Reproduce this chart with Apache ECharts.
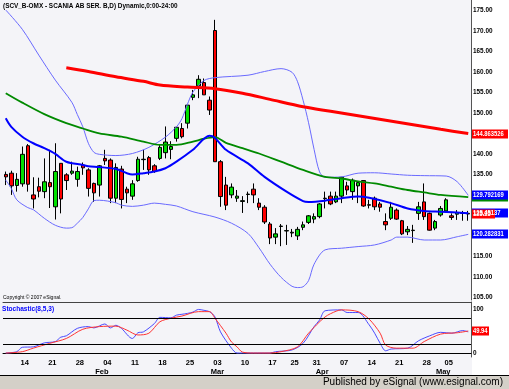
<!DOCTYPE html>
<html><head><meta charset="utf-8">
<script src="https://cdn.jsdelivr.net/npm/echarts@6/dist/echarts.min.js"></script>
<style>html,body{margin:0;padding:0;background:#fff}#c{width:509px;height:389px}</style>
</head><body><div id="c"></div>
<script>
// ---- categories (trading days 2008) ----
const dates = ['01-09','01-10','01-11','01-14','01-15','01-16','01-17','01-18','01-21','01-22','01-23','01-24','01-25','01-28','01-29','01-30','01-31',
'02-01','02-04','02-05','02-06','02-07','02-08','02-11','02-12','02-13','02-14','02-15','02-18','02-19','02-20','02-21','02-22','02-25','02-26','02-27','02-28','02-29',
'03-03','03-04','03-05','03-06','03-07','03-10','03-11','03-12','03-13','03-14','03-17','03-18','03-19','03-20','03-25','03-26','03-27','03-28','03-31',
'04-01','04-02','04-03','04-04','04-07','04-08','04-09','04-10','04-11','04-14','04-15','04-16','04-17','04-18','04-21','04-22','04-23','04-24','04-25','04-28','04-29','04-30',
'05-02','05-05','05-06','05-07','05-08','05-09'];
const weekLabels = ['01-14','01-21','01-28','02-04','02-11','02-18','02-25','03-03','03-10','03-17','03-25','03-31','04-07','04-14','04-21','04-28','05-05'];
const monthLabels = {'02-01':'Feb','03-03':'Mar','04-01':'Apr','05-02':'May'};
const priceTicks = [105,110,115,120,125,130,135,140,145,150,155,160,165,170,175];
const stochTicks = [0,100];

// ---- OHLC ----
const opens = [134.9,135.2,132.2,132.6,141.9,129.9,131.9,130.7,132.9,127.0,
137.6,134.8,135.2,133.7,137.2,136.0,132.7,132.3,138.8,138.4,
129.1,136.2,131.3,129.6,133.4,138.5,139.0,137.0,138.8,140.2,
141.0,143.7,146.1,147.4,153.7,156.5,157.3,153.0,170.0,138.0,
132.3,129.9,129.1,128.3,130.0,131.3,127.9,126.9,122.8,119.6,
122.2,121.1,120.6,119.9,122.0,123.2,124.0,124.6,129.0,129.6,
128.2,129.6,132.1,130.7,132.1,133.4,127.5,129.1,127.7,123.4,
124.2,126.2,123.6,120.9,121.2,125.4,128.2,125.4,121.8,125.0,
126.0,124.8,125.2,125.4,125.4];
const closes = [134.3,132.1,133.7,139.8,132.5,128.9,130.8,133.1,131.9,135.6,
128.9,133.4,135.7,135.6,136.5,131.5,130.4,137.0,138.2,129.1,
136.6,128.8,130.4,132.6,138.6,138.6,136.0,135.6,141.5,142.8,
141.7,146.4,144.1,151.8,154.3,158.1,154.3,150.6,138.0,129.5,
127.4,131.8,129.6,128.5,130.1,129.9,126.9,123.3,119.4,120.4,
122.3,121.2,120.8,121.5,122.6,124.8,124.6,127.7,129.1,127.7,
129.6,134.2,131.1,133.5,132.9,127.2,127.4,127.0,126.9,122.6,
126.9,124.0,120.4,121.5,121.3,127.0,124.6,121.3,123.4,126.6,
128.7,124.4,125.6,125.5,125.25];
const lows = [132.3,129.9,130.7,131.9,130.7,126.6,129.3,129.1,126.7,123.9,
125.4,131.1,134.8,131.9,134.8,129.5,128.2,129.5,137.2,127.9,
127.9,126.6,127.9,128.7,133.1,136.0,134.8,135.3,138.4,138.8,
138.6,142.9,143.7,146.1,153.0,153.5,154.3,149.4,138.0,127.0,
126.2,129.1,128.2,125.5,127.9,127.9,126.2,122.8,117.9,117.9,
117.4,117.7,119.6,118.9,121.3,122.8,123.0,124.2,126.6,127.4,
127.9,127.9,129.9,128.7,127.9,127.0,126.6,126.2,125.8,121.3,
123.8,123.8,120.1,120.1,118.2,123.8,123.8,121.2,121.3,124.6,
125.6,123.8,123.8,123.6,123.6];
const highs = [135.6,135.8,135.2,141.7,142.3,134.2,134.1,138.8,140.9,142.5,
137.6,135.2,138.0,136.8,137.8,136.4,132.9,137.2,140.9,138.8,
137.6,137.0,131.9,133.5,139.2,140.9,139.4,137.4,142.1,146.6,
143.0,146.5,147.4,151.8,155.5,159.1,158.3,153.9,172.6,138.4,
134.3,132.7,131.1,129.6,130.7,132.7,129.1,127.4,123.3,121.8,
122.8,122.6,121.6,122.1,123.4,125.0,125.4,127.9,130.7,130.7,
130.7,134.3,133.1,133.9,133.1,133.5,128.7,129.5,128.2,125.4,
128.2,126.6,123.8,122.3,122.6,128.2,132.7,125.6,123.8,127.2,
129.1,125.4,126.2,126.0,126.0];

// ---- overlays, read as [dayIndex, value] ----
const maRed = [[11,160.9],[15,160.0],[20,158.7],[25,157.6],[28,156.7],[33,156.2],[38,155.8],[43,154.7],[48,153.2],[54,151.4],[59,150.3],[64,149.2],[69,148.1],[74,147.0],[79,145.9],[84,144.86]];
const maGreen = [[0,154.7],[3,152.4],[7,149.6],[11,147.4],[14,146.1],[17,144.9],[21,144.1],[25,142.9],[28,142.1],[31,142.1],[34,142.9],[36,143.6],[38,144.0],[40,142.6],[43,141.3],[46,140.0],[50,138.0],[54,136.0],[58,134.3],[61,133.9],[64,133.2],[67,132.7],[70,131.9],[73,131.1],[76,130.5],[79,129.9],[84,129.35]];
const maBlue = [[0,148.6],[1,146.5],[3,144.1],[5,142.5],[7,141.3],[9,139.9],[11,138.0],[14,137.2],[15,136.9],[17,136.7],[20,136.2],[22,135.2],[23,134.9],[25,135.2],[27,135.6],[29,136.4],[31,138.0],[34,140.9],[37,144.3],[38,143.8],[40,140.9],[44,137.6],[47,134.3],[51,130.7],[54,128.4],[55,128.2],[58,128.5],[61,129.1],[64,129.5],[66,129.2],[70,127.9],[73,126.6],[76,126.0],[79,125.8],[84,125.45]];
const bandUpper = [[0,175.0],[3,170.3],[6,164.0],[9,157.9],[12,152.5],[13,149.5],[14,146.5],[15,142.5],[16,140.3],[17,139.8],[20,139.5],[23,140.0],[26,141.5],[29,144.0],[31,146.5],[32,148.5],[33,152.0],[34,155.0],[36,157.8],[38,158.5],[44,159.1],[47,160.0],[50,160.7],[52,159.8],[53,157.5],[54,153.0],[55,147.5],[56,141.0],[57,135.5],[58,134.2],[61,134.3],[64,135.2],[67,135.3],[70,135.0],[73,134.7],[76,134.6],[80,134.5],[82,133.1],[84,129.79]];
const bandLower = [[0,133.5],[1,131.5],[2,128.7],[4,126.8],[5,126.3],[7,124.2],[9,122.5],[11,121.8],[12,121.9],[13,123.0],[14,124.4],[15,126.5],[16,128.5],[17,128.6],[20,128.0],[21,127.4],[23,127.1],[25,127.4],[27,127.9],[29,127.6],[31,127.2],[34,125.8],[38,124.5],[41,123.0],[44,120.5],[46,117.0],[48,113.0],[50,109.8],[52,107.6],[53,107.3],[54,107.5],[55,109.0],[56,113.0],[58,116.5],[61,116.9],[64,117.3],[67,117.7],[70,118.9],[71,119.6],[73,119.6],[76,118.9],[79,118.9],[82,119.7],[84,120.28]];
const stochK = [[0,0],[2,3],[3,13],[5,14],[7,23],[9,26],[10,36],[11,39],[13,56],[15,60],[16,57],[18,66],[19,57],[20,63],[21,56],[23,33],[24,46],[25,48],[27,67],[28,81],[30,80],[31,86],[32,88],[33,90],[34,93],[35,99],[36,97],[37,94],[38,82],[39,48],[41,11],[42,0],[44,0],[48,0],[49,3],[52,7],[54,22],[56,60],[57,75],[58,96],[61,98],[62,92],[64,92],[66,64],[67,45],[68,22],[69,5],[70,9],[73,11],[75,28],[77,39],[79,47],[81,45],[83,51],[84,48]];
const stochD = [[0,0],[3,3],[5,11],[8,22],[11,33],[14,54],[17,60],[20,61],[22,52],[24,41],[26,45],[28,71],[30,79],[32,84],[35,94],[37,94],[38,79],[40,45],[41,25],[42,14],[43,2],[45,0],[48,0],[50,3],[53,14],[55,45],[58,82],[60,95],[61,98],[64,94],[66,77],[68,45],[69,18],[71,11],[74,11],[76,26],[79,43],[82,46],[84,49.94]];

// ---- layout ----
const F = '"Liberation Sans", Arial, sans-serif';
const GL = 3, GW = 468, AX = GL + GW;
const K1 = 4.1;                       // px per price unit
const MAIN_MAX = 175 + 10 / K1, MAIN_MIN = MAIN_MAX - 300 / K1;
const K2 = 0.44;
const ST_MAX = 100 + 7 / K2, ST_MIN = ST_MAX - 55 / K2;

const chart = echarts.init(document.getElementById('c'));
const lbl = {fontSize: 7.5, fontWeight: 'bold', color: '#000', fontFamily: F};
function line(data, color, width, xi, yi) {
  return {type: 'line', data, xAxisIndex: xi || 0, yAxisIndex: yi || 0, symbol: 'none', smooth: 0.3,
    lineStyle: {color, width}, silent: true};
}
chart.setOption({
  backgroundColor: '#f4f4f8',
  animation: false,
  grid: [
    {left: GL, width: GW, top: 0, height: 300},
    {left: GL, width: GW, top: 302, height: 55}
  ],
  xAxis: [
    {type: 'category', gridIndex: 0, data: dates, axisLine: {show: false}, axisTick: {show: false}, axisLabel: {show: false}},
    {type: 'category', gridIndex: 1, data: dates, axisLine: {show: true, lineStyle: {color: '#000'}}, axisTick: {show: false},
      axisLabel: Object.assign({interval: (i) => weekLabels.includes(dates[i]), formatter: (v) => v.slice(3), margin: 2, padding: [0, 0, 0, 5]}, lbl)},
    {type: 'category', gridIndex: 1, data: dates, position: 'bottom', offset: 9, axisLine: {show: false}, axisTick: {show: false},
      axisLabel: Object.assign({interval: (i) => dates[i] in monthLabels, formatter: (v) => monthLabels[v] || '', margin: 2, padding: [0, 0, 0, 5]}, lbl)},
    {type: 'category', gridIndex: 1, data: dates, position: 'top', axisLine: {show: true, lineStyle: {color: '#444'}}, axisTick: {show: false}, axisLabel: {show: false}}
  ],
  yAxis: [
    {type: 'value', gridIndex: 0, position: 'right', min: MAIN_MIN, max: MAIN_MAX, splitLine: {show: false},
      axisLine: {show: true, lineStyle: {color: '#555'}}, axisTick: {show: false}, axisLabel: {show: false}},
    {type: 'value', gridIndex: 1, position: 'right', min: ST_MIN, max: ST_MAX, splitLine: {show: false},
      axisLine: {show: true, lineStyle: {color: '#555'}}, axisTick: {show: false}, axisLabel: {show: false}}
  ],
  series: [
    {type: 'candlestick', xAxisIndex: 0, yAxisIndex: 0, barWidth: 4,
      data: dates.map((d, i) => [opens[i], closes[i], lows[i], highs[i]]),
      itemStyle: {color: '#00e000', color0: '#ff0000', borderColor: '#000', borderColor0: '#000', borderColorDoji: '#000', borderWidth: 1}},
    line(bandUpper, '#6a6aff', 1),
    line(bandLower, '#6a6aff', 1),
    line(maGreen, '#008a00', 1.8),
    line(maBlue, '#0000ff', 2),
    line(maRed, '#ff0000', 3),
    Object.assign(line(stochK, '#4a4aff', 1, 1, 1), {
      markLine: {silent: true, symbol: 'none', label: {show: false}, lineStyle: {color: '#000', type: 'solid', width: 1},
        data: [{yAxis: 20}, {yAxis: 80}]}}),
    line(stochD, '#ff3333', 1, 1, 1)
  ]
});

// ---- condensed texts and right-axis value boxes (positioned through the axis scales) ----
function ctext(x, y, text, fill, font, sx, z) {
  return {type: 'text', x, y, scaleX: sx, z: z || 60, style: {x: 0, y: 0, text, fill, font, verticalAlign: 'middle'}};
}
function box(yAxisIndex, v, text, bg, w) {
  const y = Math.round(chart.convertToPixel({yAxisIndex}, v));
  return {type: 'group', z: 100, children: [
    {type: 'rect', shape: {x: AX + 1, y: y - 4.5, width: w, height: 9}, style: {fill: bg}, z: 100},
    ctext(AX + 2, y, text, '#fff', 'bold 8px ' + F, 0.73, 101)
  ]};
}
const last = (a) => a[a.length - 1][1];
const g = [
  {type: 'rect', z: -1, shape: {x: AX + 1, y: 0, width: 509 - AX, height: 375}, style: {fill: '#ffffff'}},
  {type: 'rect', z: 50, shape: {x: 0, y: 375, width: 509, height: 14}, style: {fill: '#d4d0c8'}},
  {type: 'line', z: 51, shape: {x1: 0, y1: 375.5, x2: 509, y2: 375.5}, style: {stroke: '#000', lineWidth: 1}},
  {type: 'text', z: 52, style: {x: 503, y: 382, text: 'Published by eSignal (www.esignal.com)', fill: '#000', font: '10px ' + F, align: 'right', verticalAlign: 'middle'}},
  ctext(3, 6, '(SCV_B-OMX - SCANIA AB SER. B,D) Dynamic,0:00-24:00', '#000', 'bold 8px ' + F, 0.8),
  {type: 'text', z: 52, style: {x: 3, y: 297.5, text: 'Copyright \u00a9 2007 eSignal.', fill: '#000', font: '5px ' + F, verticalAlign: 'middle'}},
  ctext(2, 309, 'Stochastic(8,5,3)', '#0000ff', 'bold 8px ' + F, 0.82)
];
priceTicks.forEach((v) => g.push(ctext(AX + 2, Math.round(chart.convertToPixel({yAxisIndex: 0}, v)), v.toFixed(2), '#000', 'bold 8px ' + F, 0.8)));
stochTicks.forEach((v) => g.push(ctext(AX + 2, Math.round(chart.convertToPixel({yAxisIndex: 1}, v)), String(v), '#000', 'bold 8px ' + F, 0.8)));
g.push(
  box(0, last(maGreen), '', '#008a00', 36),
  box(0, last(bandUpper), '129.792169', '#0000ff', 36),
  box(0, last(maRed), '144.863526', '#ff0000', 36),
  box(0, last(maBlue), '125.45137', '#0000ff', 36),
  box(0, closes[closes.length - 1], '125.25', '#ff0000', 23),
  box(0, last(bandLower), '120.282831', '#0000ff', 36),
  box(1, last(stochD), '49.94', '#ff0000', 17)
);
chart.setOption({graphic: g});
</script></body></html>
